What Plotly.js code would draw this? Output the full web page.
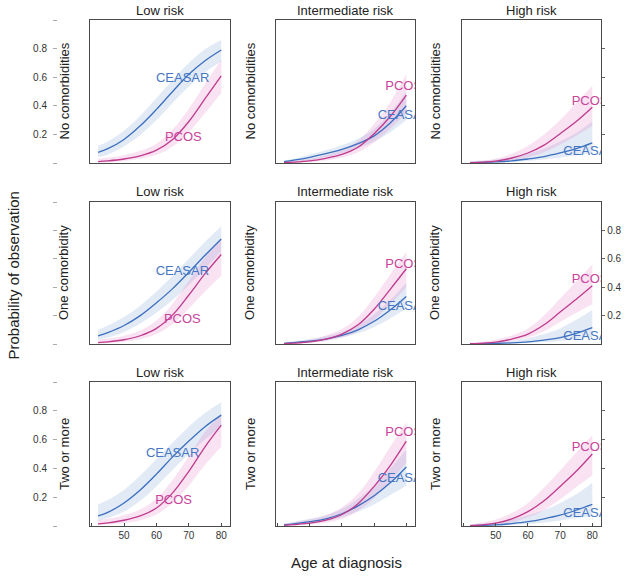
<!DOCTYPE html>
<html><head><meta charset="utf-8">
<script src="https://cdn.plot.ly/plotly-3.0.1.min.js"></script>
<style>body{margin:0;padding:0;background:#fff}#chart{width:629px;height:576px}</style>
</head><body><div id="chart"></div>
<script>
// ---- data ----
const ages = [42, 45, 50, 55, 60, 65, 70, 75, 80];
const riskLevels = ['Low risk', 'Intermediate risk', 'High risk'];
const comorbidityGroups = ['No comorbidities', 'One comorbidity', 'Two or more'];
const seriesNames = ['CEASAR', 'PCOS'];
const yTickVals = [0, 0.2, 0.4, 0.6, 0.8, 1];
const yTickText = ['', '0.2', '0.4', '0.6', '0.8', ''];
const yTickValsRight = [0.2, 0.4, 0.6, 0.8];
const yTickTextRight = ['0.2', '0.4', '0.6', '0.8'];
const xTickVals = [40, 50, 60, 70, 80];
const xTickText = ['', '50', '60', '70', '80'];

// No comorbidities
const ceasar_none_low    = [0.075,0.10,0.165,0.26,0.375,0.50,0.62,0.715,0.79];
const ceasar_none_low_lo = [0.04,0.06,0.115,0.195,0.30,0.42,0.535,0.635,0.71];
const ceasar_none_low_hi = [0.12,0.15,0.225,0.33,0.455,0.58,0.70,0.795,0.86];
const pcos_none_low      = [0.01,0.015,0.028,0.05,0.09,0.165,0.29,0.45,0.61];
const pcos_none_low_lo   = [0.003,0.006,0.014,0.03,0.058,0.115,0.215,0.35,0.49];
const pcos_none_low_hi   = [0.03,0.038,0.055,0.085,0.135,0.235,0.38,0.555,0.72];

const ceasar_none_int    = [0.01,0.02,0.04,0.065,0.095,0.135,0.19,0.28,0.40];
const ceasar_none_int_lo = [0.004,0.008,0.02,0.04,0.068,0.105,0.15,0.215,0.30];
const ceasar_none_int_hi = [0.02,0.03,0.06,0.09,0.125,0.17,0.24,0.35,0.50];
const pcos_none_int      = [0.003,0.006,0.015,0.033,0.06,0.11,0.205,0.325,0.475];
const pcos_none_int_lo   = [0.001,0.002,0.007,0.018,0.038,0.075,0.145,0.24,0.35];
const pcos_none_int_hi   = [0.01,0.015,0.03,0.055,0.09,0.155,0.275,0.425,0.62];

const ceasar_none_high    = [0.002,0.004,0.008,0.015,0.028,0.045,0.07,0.10,0.14];
const ceasar_none_high_lo = [0.0,0.001,0.003,0.007,0.014,0.024,0.038,0.055,0.07];
const ceasar_none_high_hi = [0.01,0.015,0.025,0.04,0.065,0.10,0.15,0.21,0.29];
const pcos_none_high      = [0.002,0.005,0.013,0.035,0.07,0.125,0.205,0.29,0.39];
const pcos_none_high_lo   = [0.0,0.001,0.005,0.015,0.04,0.075,0.13,0.19,0.26];
const pcos_none_high_hi   = [0.01,0.015,0.03,0.065,0.12,0.20,0.30,0.42,0.54];

// One comorbidity
const ceasar_one_low    = [0.057,0.08,0.13,0.20,0.29,0.39,0.505,0.625,0.74];
const ceasar_one_low_lo = [0.03,0.045,0.085,0.145,0.22,0.31,0.415,0.53,0.65];
const ceasar_one_low_hi = [0.10,0.13,0.19,0.27,0.37,0.48,0.60,0.72,0.83];
const pcos_one_low      = [0.01,0.015,0.03,0.058,0.11,0.205,0.345,0.495,0.63];
const pcos_one_low_lo   = [0.003,0.006,0.015,0.034,0.07,0.14,0.25,0.37,0.48];
const pcos_one_low_hi   = [0.03,0.038,0.058,0.095,0.165,0.285,0.445,0.61,0.74];

const ceasar_one_int    = [0.005,0.01,0.02,0.035,0.06,0.10,0.16,0.24,0.335];
const ceasar_one_int_lo = [0.002,0.005,0.012,0.025,0.045,0.075,0.12,0.18,0.25];
const ceasar_one_int_hi = [0.012,0.02,0.035,0.055,0.085,0.135,0.21,0.31,0.43];
const pcos_one_int      = [0.003,0.006,0.015,0.035,0.07,0.135,0.245,0.385,0.53];
const pcos_one_int_lo   = [0.001,0.002,0.007,0.02,0.045,0.09,0.17,0.28,0.40];
const pcos_one_int_hi   = [0.01,0.015,0.03,0.06,0.105,0.19,0.33,0.49,0.65];

const ceasar_one_high    = [0.001,0.002,0.004,0.008,0.015,0.028,0.045,0.075,0.115];
const ceasar_one_high_lo = [0.0,0.001,0.002,0.004,0.008,0.014,0.022,0.035,0.05];
const ceasar_one_high_hi = [0.005,0.008,0.012,0.02,0.04,0.07,0.11,0.17,0.24];
const pcos_one_high      = [0.002,0.005,0.013,0.035,0.07,0.135,0.225,0.315,0.41];
const pcos_one_high_lo   = [0.001,0.002,0.006,0.02,0.045,0.09,0.155,0.22,0.28];
const pcos_one_high_hi   = [0.008,0.015,0.03,0.06,0.11,0.20,0.32,0.44,0.56];

// Two or more
const ceasar_two_low    = [0.07,0.095,0.16,0.25,0.36,0.48,0.59,0.69,0.77];
const ceasar_two_low_lo = [0.035,0.055,0.10,0.175,0.275,0.39,0.50,0.60,0.69];
const ceasar_two_low_hi = [0.15,0.18,0.25,0.35,0.465,0.58,0.69,0.785,0.86];
const pcos_two_low      = [0.015,0.022,0.04,0.07,0.125,0.23,0.38,0.55,0.70];
const pcos_two_low_lo   = [0.005,0.01,0.02,0.04,0.08,0.16,0.28,0.425,0.55];
const pcos_two_low_hi   = [0.04,0.05,0.075,0.115,0.19,0.32,0.485,0.655,0.78];

const ceasar_two_int    = [0.008,0.015,0.03,0.05,0.085,0.14,0.21,0.30,0.41];
const ceasar_two_int_lo = [0.004,0.008,0.018,0.033,0.06,0.10,0.15,0.215,0.28];
const ceasar_two_int_hi = [0.02,0.03,0.05,0.075,0.12,0.19,0.28,0.40,0.53];
const pcos_two_int      = [0.005,0.01,0.02,0.04,0.08,0.155,0.275,0.42,0.59];
const pcos_two_int_lo   = [0.002,0.004,0.01,0.022,0.05,0.105,0.195,0.31,0.44];
const pcos_two_int_hi   = [0.015,0.025,0.045,0.075,0.13,0.225,0.375,0.55,0.72];

const ceasar_two_high    = [0.002,0.004,0.008,0.017,0.03,0.05,0.075,0.11,0.15];
const ceasar_two_high_lo = [0.0,0.001,0.003,0.007,0.014,0.024,0.038,0.055,0.07];
const ceasar_two_high_hi = [0.01,0.015,0.025,0.045,0.075,0.11,0.16,0.22,0.30];
const pcos_two_high      = [0.003,0.006,0.02,0.05,0.10,0.175,0.275,0.38,0.50];
const pcos_two_high_lo   = [0.001,0.002,0.008,0.025,0.06,0.11,0.185,0.27,0.35];
const pcos_two_high_hi   = [0.01,0.02,0.045,0.09,0.16,0.265,0.385,0.51,0.63];

// label anchor points (age, probability) for series names in each panel
const ceasarLabelAt = [[68.1,0.587],[79.4,0.33],[79.3,0.08],[68,0.51],[79.4,0.263],[79.3,0.05],[65,0.50],[79.4,0.33],[79.3,0.086]];
const pcosLabelAt   = [[68.3,0.175],[79.2,0.534],[79.3,0.43],[68,0.17],[79.2,0.556],[79.3,0.45],[65.3,0.175],[79.2,0.65],[79.3,0.54]];

// ---- build ----
const panelData = [
  [ceasar_none_low, ceasar_none_low_lo, ceasar_none_low_hi, pcos_none_low, pcos_none_low_lo, pcos_none_low_hi],
  [ceasar_none_int, ceasar_none_int_lo, ceasar_none_int_hi, pcos_none_int, pcos_none_int_lo, pcos_none_int_hi],
  [ceasar_none_high, ceasar_none_high_lo, ceasar_none_high_hi, pcos_none_high, pcos_none_high_lo, pcos_none_high_hi],
  [ceasar_one_low, ceasar_one_low_lo, ceasar_one_low_hi, pcos_one_low, pcos_one_low_lo, pcos_one_low_hi],
  [ceasar_one_int, ceasar_one_int_lo, ceasar_one_int_hi, pcos_one_int, pcos_one_int_lo, pcos_one_int_hi],
  [ceasar_one_high, ceasar_one_high_lo, ceasar_one_high_hi, pcos_one_high, pcos_one_high_lo, pcos_one_high_hi],
  [ceasar_two_low, ceasar_two_low_lo, ceasar_two_low_hi, pcos_two_low, pcos_two_low_lo, pcos_two_low_hi],
  [ceasar_two_int, ceasar_two_int_lo, ceasar_two_int_hi, pcos_two_int, pcos_two_int_lo, pcos_two_int_hi],
  [ceasar_two_high, ceasar_two_high_lo, ceasar_two_high_hi, pcos_two_high, pcos_two_high_lo, pcos_two_high_hi]
];

const W = 629, H = 576;
const FONT = 'Liberation Sans, Arial, sans-serif';
const colPx = [[90,230],[276,415],[462,601]];
const rowPx = [[20,163],[202,344],[382,526]];
const blue = '#3b6fbf', pink = '#c03b8e';
const blueText = '#4677c4', pinkText = '#c8449c';
const blueBand = 'rgba(160,185,225,0.30)', pinkBand = 'rgba(228,125,190,0.22)';

const traces = [];
const layout = {
  width: W, height: H,
  margin: {l:0, r:0, t:0, b:0},
  paper_bgcolor: '#fff', plot_bgcolor: '#fff',
  showlegend: false,
  font: {family: FONT, color: '#222'},
  annotations: []
};

for (let r = 0; r < 3; r++) {
  for (let c = 0; c < 3; c++) {
    const i = r * 3 + c;
    const id = i + 1;
    const xa = 'x' + id, ya = 'y' + id;
    const [cf, clo, chi, pf, plo, phi] = panelData[i];
    const spl = {shape: 'spline', smoothing: 1};
    traces.push({x: ages, y: clo, xaxis: xa, yaxis: ya, type: 'scatter', mode: 'lines', line: Object.assign({width: 0, color: blueBand}, spl), hoverinfo: 'skip'});
    traces.push({x: ages, y: chi, xaxis: xa, yaxis: ya, type: 'scatter', mode: 'lines', fill: 'tonexty', fillcolor: blueBand, line: Object.assign({width: 0, color: blueBand}, spl), hoverinfo: 'skip'});
    traces.push({x: ages, y: plo, xaxis: xa, yaxis: ya, type: 'scatter', mode: 'lines', line: Object.assign({width: 0, color: pinkBand}, spl), hoverinfo: 'skip'});
    traces.push({x: ages, y: phi, xaxis: xa, yaxis: ya, type: 'scatter', mode: 'lines', fill: 'tonexty', fillcolor: pinkBand, line: Object.assign({width: 0, color: pinkBand}, spl), hoverinfo: 'skip'});
    traces.push({x: ages, y: cf, xaxis: xa, yaxis: ya, type: 'scatter', mode: 'lines', name: seriesNames[0], line: Object.assign({width: 1.3, color: blue}, spl)});
    traces.push({x: ages, y: pf, xaxis: xa, yaxis: ya, type: 'scatter', mode: 'lines', name: seriesNames[1], line: Object.assign({width: 1.3, color: pink}, spl)});
    traces.push({x: [ceasarLabelAt[i][0]], y: [ceasarLabelAt[i][1]], xaxis: xa, yaxis: ya, type: 'scatter', mode: 'text', text: [seriesNames[0]], textposition: 'middle center', textfont: {family: FONT, size: 13, color: blueText}, cliponaxis: true, hoverinfo: 'skip'});
    traces.push({x: [pcosLabelAt[i][0]], y: [pcosLabelAt[i][1]], xaxis: xa, yaxis: ya, type: 'scatter', mode: 'text', text: [seriesNames[1]], textposition: 'middle center', textfont: {family: FONT, size: 13, color: pinkText}, cliponaxis: true, hoverinfo: 'skip'});

    const xd = [colPx[c][0] / W, colPx[c][1] / W];
    const yd = [1 - rowPx[r][1] / H, 1 - rowPx[r][0] / H];
    layout['xaxis' + id] = {
      domain: xd, anchor: ya, range: [39.5, 82.7],
      showline: true, mirror: true, linecolor: '#4a4a4a', linewidth: 1.2,
      showgrid: false, zeroline: false,
      ticks: r === 2 ? 'inside' : '', ticklen: 3, tickcolor: '#4a4a4a', tickwidth: 1,
      tickmode: 'array', tickvals: xTickVals, ticktext: xTickText,
      showticklabels: r === 2 && c !== 1,
      tickfont: {family: FONT, size: 10, color: '#333'}
    };
    layout['yaxis' + id] = {
      domain: yd, anchor: xa, range: [0, 1],
      showline: true, mirror: true, linecolor: '#4a4a4a', linewidth: 1.2,
      showgrid: false, zeroline: false,
      side: c === 2 ? 'right' : 'left',
      ticks: c === 2 ? 'outside' : '', ticklen: 3, tickcolor: '#666', tickwidth: 1,
      tickmode: 'array', tickvals: yTickValsRight, ticktext: yTickTextRight,
      showticklabels: c === 2 && r === 1,
      tickfont: {family: FONT, size: 10, color: '#333'}
    };
    layout.annotations.push({
      text: riskLevels[c], xref: 'paper', yref: 'paper',
      x: (xd[0] + xd[1]) / 2, y: 1 - (rowPx[r][0] - 10) / H,
      xanchor: 'center', yanchor: 'middle', showarrow: false,
      font: {family: FONT, size: 13, color: '#222'}
    });
    const rowLabelX = [64, 250, 435][c];
    layout.annotations.push({
      text: comorbidityGroups[r], xref: 'paper', yref: 'paper',
      x: rowLabelX / W, y: 1 - (rowPx[r][0] + rowPx[r][1]) / 2 / H,
      xanchor: 'center', yanchor: 'middle', showarrow: false, textangle: -90,
      font: {family: FONT, size: 13, color: '#222'}
    });
  }
  const baseId = r * 3 + 1;
  const oid = 10 + r;
  layout['yaxis' + oid] = {
    overlaying: 'y' + baseId, anchor: 'free', position: 57 / W, side: 'left',
    range: [0, 1], showline: false, showgrid: false, zeroline: false,
    ticks: 'outside', ticklen: 4, tickcolor: '#aaa', tickwidth: 1,
    tickmode: 'array', tickvals: yTickVals, ticktext: yTickText,
    showticklabels: r !== 1, ticklabelstandoff: 4,
    tickfont: {family: FONT, size: 10, color: '#333'}
  };
  traces.push({x: [null], y: [null], xaxis: 'x' + baseId, yaxis: 'y' + oid, type: 'scatter', mode: 'lines', hoverinfo: 'skip'});
}

layout.annotations.push({
  text: 'Probability of observation', xref: 'paper', yref: 'paper',
  x: 12.5 / W, y: 1 - 276 / H, xanchor: 'center', yanchor: 'middle',
  showarrow: false, textangle: -90, font: {family: FONT, size: 15, color: '#222'}
});
layout.annotations.push({
  text: 'Age at diagnosis', xref: 'paper', yref: 'paper',
  x: 346 / W, y: 1 - 562 / H, xanchor: 'center', yanchor: 'middle',
  showarrow: false, font: {family: FONT, size: 15, color: '#222'}
});

Plotly.newPlot('chart', traces, layout, {staticPlot: true, displayModeBar: false});
</script>
</body></html>
